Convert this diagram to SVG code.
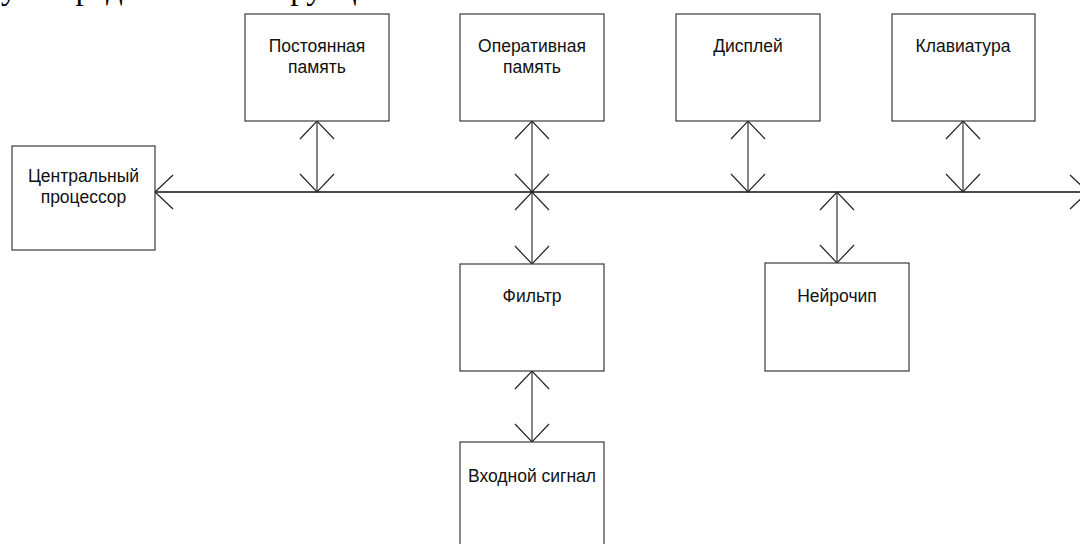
<svg xmlns="http://www.w3.org/2000/svg" width="1080" height="544" viewBox="0 0 1080 544">
  <style>
    .box { fill: #ffffff; stroke: #3a3a3a; stroke-width: 1.2; }
    .lbl { font-family: "Liberation Sans", Arial, sans-serif; font-size: 17.5px; fill: #111; text-anchor: middle; }
    .link { fill: none; stroke: #444; stroke-width: 1.3; marker-start: url(#vhead); marker-end: url(#vhead); }
    .bus { fill: none; stroke: #111; stroke-width: 1.6; marker-start: url(#vhead); marker-end: url(#vhead); }
    .body { font-family: "Liberation Serif", "Times New Roman", serif; font-size: 33px; fill: #000; }
  </style>
  <defs>
    <marker id="vhead" markerUnits="userSpaceOnUse" markerWidth="40" markerHeight="40" viewBox="-20 -20 40 40" refX="0" refY="0" orient="auto-start-reverse" overflow="visible">
      <path d="M -18 -17 L 0 0 L -18 17" fill="none" stroke="#222" stroke-width="1.2"/>
    </marker>
  </defs>
  <rect width="1080" height="544" fill="#ffffff"/>

  <!-- running text of the page above the figure -->
  <text class="body" x="1" y="-1">у посредством конструкции.</text>

  <!-- bus and links -->
  <g id="connectors">
    <path class="bus" d="M155,192 H1088"/>
    <path class="link" d="M317,121 V192"/>
    <path class="link" d="M532,121 V192"/>
    <path class="link" d="M532,192 V264"/>
    <path class="link" d="M748,121 V192"/>
    <path class="link" d="M963,121 V192"/>
    <path class="link" d="M837,192 V263"/>
    <path class="link" d="M532,371 V442"/>
  </g>

  <g id="cpu">
    <rect class="box" x="12" y="146" width="143" height="104"/>
    <text class="lbl" x="83.5" y="182">Центральный</text>
    <text class="lbl" x="83.5" y="203">процессор</text>
  </g>
  <g id="rom">
    <rect class="box" x="245" y="14" width="144" height="107"/>
    <text class="lbl" x="317" y="52">Постоянная</text>
    <text class="lbl" x="317" y="73">память</text>
  </g>
  <g id="ram">
    <rect class="box" x="460" y="14" width="144" height="107"/>
    <text class="lbl" x="532" y="52">Оперативная</text>
    <text class="lbl" x="532" y="73">память</text>
  </g>
  <g id="display">
    <rect class="box" x="676" y="14" width="144" height="107"/>
    <text class="lbl" x="748" y="52">Дисплей</text>
  </g>
  <g id="keyboard">
    <rect class="box" x="892" y="14" width="143" height="107"/>
    <text class="lbl" x="963" y="52">Клавиатура</text>
  </g>
  <g id="filter">
    <rect class="box" x="460" y="264" width="144" height="107"/>
    <text class="lbl" x="532" y="302">Фильтр</text>
  </g>
  <g id="neurochip">
    <rect class="box" x="765" y="263" width="144" height="108"/>
    <text class="lbl" x="837" y="302">Нейрочип</text>
  </g>
  <g id="input">
    <rect class="box" x="460" y="442" width="144" height="110"/>
    <text class="lbl" x="532" y="482">Входной сигнал</text>
  </g>
</svg>
